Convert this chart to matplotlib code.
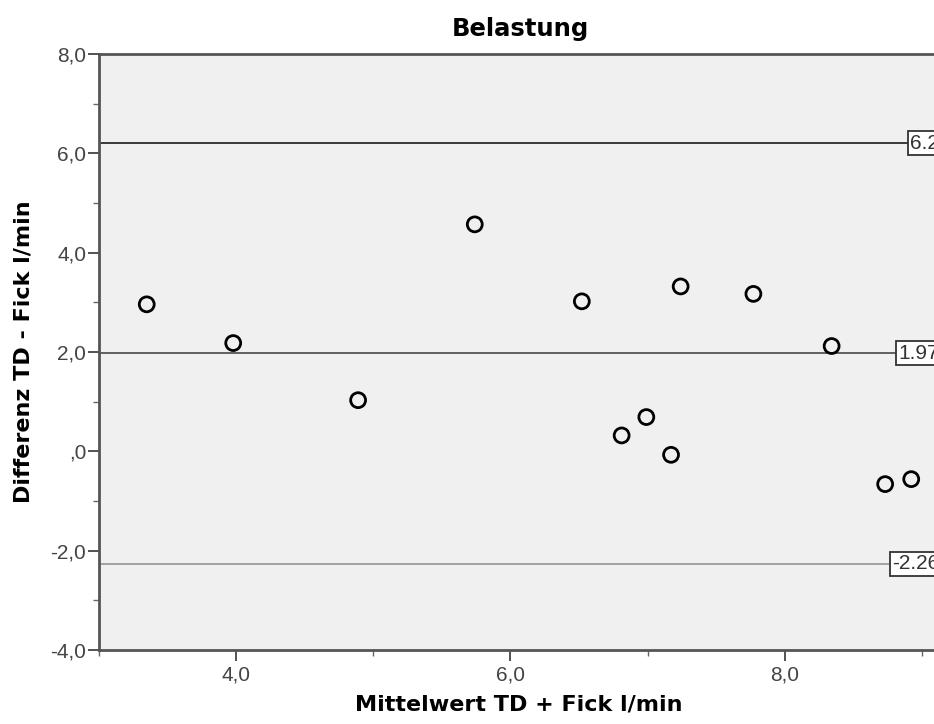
import matplotlib
matplotlib.use("Agg")
import matplotlib.pyplot as plt
from matplotlib.ticker import FixedLocator, FixedFormatter

# Bland-Altman data: mean of both methods vs. difference (TD - Fick), l/min
mittelwert = [3.35, 3.98, 4.89, 5.74, 6.52, 6.81, 6.99, 7.24, 7.17, 7.77, 8.34, 8.73, 8.92]
differenz = [2.96, 2.18, 1.03, 4.57, 3.02, 0.32, 0.69, 3.32, -0.07, 3.17, 2.12, -0.66, -0.56]

# mean difference and limits of agreement
ref_values = [6.2, 1.97, -2.26]
ref_labels = ["6.2", "1.97", "-2.26"]
ref_colors = ["#2a2a2a", "#555555", "#9a9a9a"]

x_major = [4, 6, 8]
x_major_labels = ["4,0", "6,0", "8,0"]
x_minor = [3, 5, 7, 9]
y_major = [-4, -2, 0, 2, 4, 6, 8]
y_major_labels = ["-4,0", "-2,0", ",0", "2,0", "4,0", "6,0", "8,0"]
y_minor = [-3, -1, 1, 3, 5, 7]

W, H = 934, 724
fig = plt.figure(figsize=(W / 100, H / 100), dpi=100)

# plot area runs past the right border of the image
left_px, right_px, top_px, bottom_px = 98.7, 942.8, 54, 650
ax = fig.add_axes([left_px / W, 1 - bottom_px / H,
                   (right_px - left_px) / W, (bottom_px - top_px) / H])
ax.set_facecolor("#f0f0f0")
ax.set_xlim(3, 9.15)
ax.set_ylim(-4, 8)

for val, lab, col in zip(ref_values, ref_labels, ref_colors):
    ax.axhline(val, color=col, lw=1.3, zorder=1)
    ax.text(9.125, val, lab, ha="right", va="center", fontsize=15,
            family="Liberation Sans", color="#333333", zorder=4,
            bbox=dict(boxstyle="square,pad=0.12", fc="white", ec="#333333", lw=1.3))

ax.scatter(mittelwert, differenz, s=115, facecolors="none", edgecolors="black",
           linewidths=2.0, zorder=3)

for side in ["left", "bottom", "top", "right"]:
    ax.spines[side].set_color("#555555")
    ax.spines[side].set_linewidth(2.0)

ax.xaxis.set_major_locator(FixedLocator(x_major))
ax.xaxis.set_major_formatter(FixedFormatter(x_major_labels))
ax.xaxis.set_minor_locator(FixedLocator(x_minor))
ax.yaxis.set_major_locator(FixedLocator(y_major))
ax.yaxis.set_major_formatter(FixedFormatter(y_major_labels))
ax.yaxis.set_minor_locator(FixedLocator(y_minor))

ax.tick_params(which="major", length=8, width=1.3, color="#444444",
               labelsize=15, labelcolor="#444444")
ax.tick_params(which="minor", length=4, width=1.0, color="#666666")
ax.tick_params(axis="y", which="major", pad=1)
ax.tick_params(axis="x", which="major", pad=3)
for lab in ax.get_xticklabels() + ax.get_yticklabels():
    lab.set_family("Liberation Sans")

ax.set_title("Belastung", fontsize=17.5, fontweight="bold", family="DejaVu Sans", pad=13)
ax.set_xlabel("Mittelwert TD + Fick l/min", fontsize=16, fontweight="bold",
              family="DejaVu Sans")
ax.set_ylabel("Differenz TD - Fick l/min", fontsize=16, fontweight="bold",
              family="DejaVu Sans")
ax.xaxis.set_label_coords(0.498, -0.0755)
ax.xaxis.label.set_va("top")
ax.yaxis.set_label_coords(-0.077, 0.5)

fig.savefig("out.png", dpi=100)
